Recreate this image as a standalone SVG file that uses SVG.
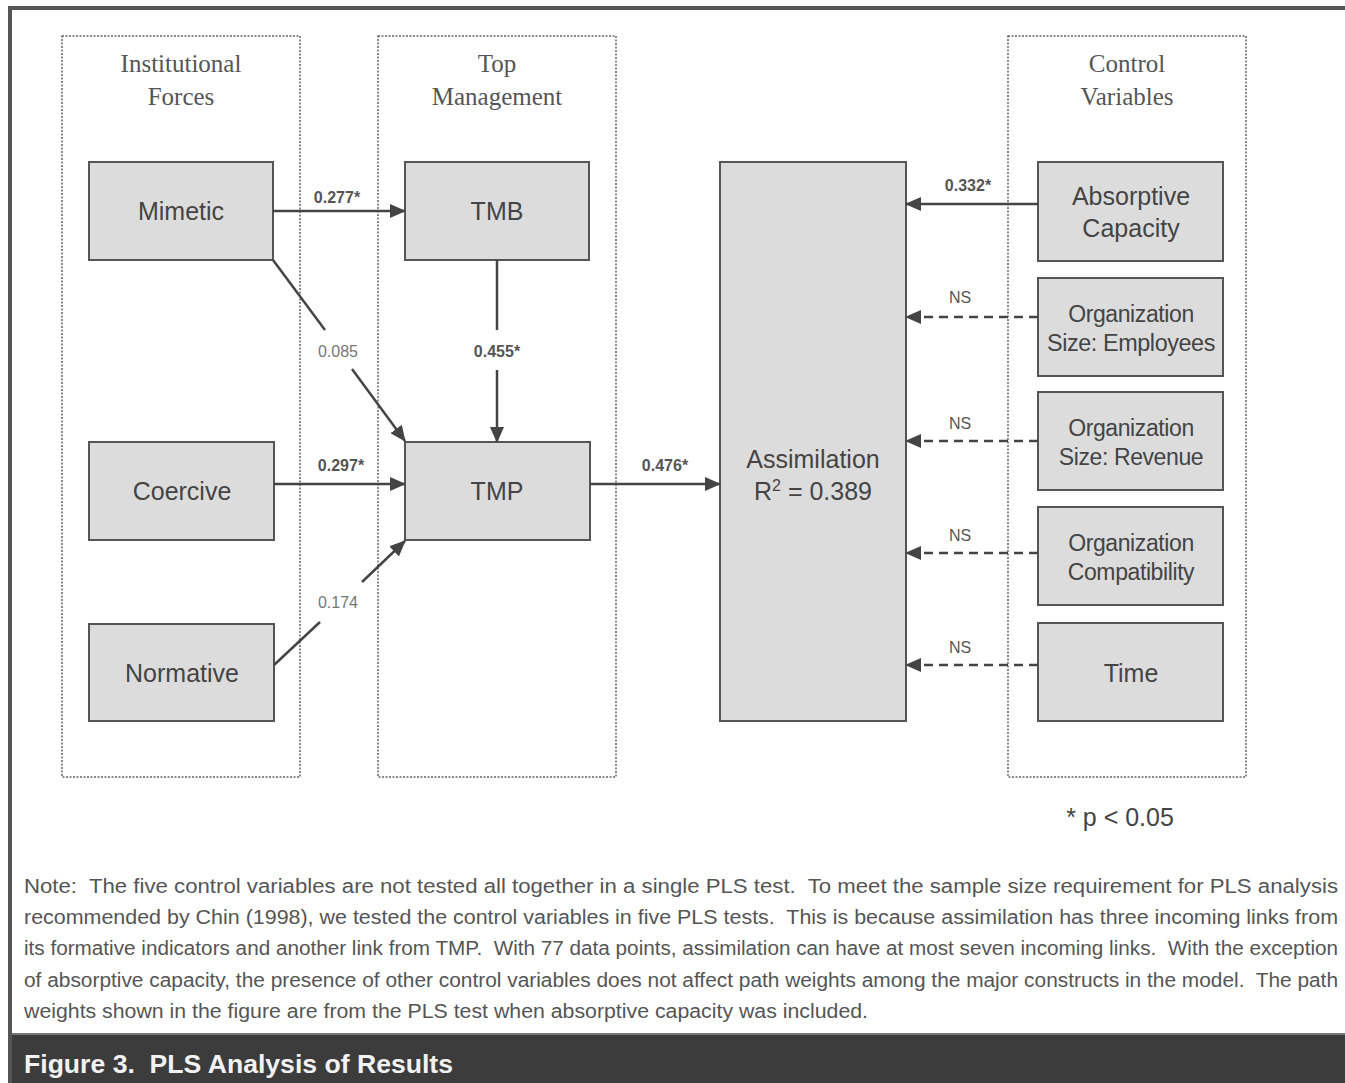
<svg xmlns="http://www.w3.org/2000/svg" width="1345" height="1083" viewBox="0 0 1345 1083">
<style>
.grp{fill:none;stroke:#666;stroke-width:1.5;stroke-dasharray:2 1.5}
.box{fill:#dcdcdc;stroke:#555;stroke-width:2}
.hd{font-family:"Liberation Serif",serif;font-size:25px;fill:#555;text-anchor:middle}
.nl{font-family:"Liberation Sans",Arial,sans-serif;font-size:25px;fill:#444;text-anchor:middle}
.sl{font-family:"Liberation Sans",Arial,sans-serif;font-size:23px;fill:#444;text-anchor:middle;letter-spacing:-0.4px}
.lb{font-family:"Liberation Sans",Arial,sans-serif;font-size:16px;fill:#555;text-anchor:middle;font-weight:bold}
.ln{font-family:"Liberation Sans",Arial,sans-serif;font-size:16px;fill:#777;text-anchor:middle}
.ns{font-family:"Liberation Sans",Arial,sans-serif;font-size:16px;fill:#555;text-anchor:middle}
.c{stroke:#444;stroke-width:2.5;fill:none}
.d{stroke:#444;stroke-width:2.5;fill:none;stroke-dasharray:9 6}
.note{font-family:"Liberation Sans",Arial,sans-serif;font-size:19.5px;fill:#555}
</style>
<defs>
<marker id="ah" markerUnits="userSpaceOnUse" markerWidth="16" markerHeight="14" refX="15" refY="7" orient="auto">
<path d="M0,0 L16,7 L0,14 Z" fill="#444"/>
</marker>
</defs>
<rect x="0" y="0" width="1345" height="1083" fill="#fff"/>
<g id="frame">
<line x1="10" y1="8" x2="1345" y2="8" stroke="#555" stroke-width="4"/>
<line x1="10" y1="6" x2="10" y2="1083" stroke="#555" stroke-width="4"/>
<rect x="12" y="1034" width="1333" height="49" fill="#3c3c3c"/>
<line x1="12" y1="1034" x2="1345" y2="1034" stroke="#777" stroke-width="2"/>
</g>
<g id="group-institutional">
<rect class="grp" x="62" y="36" width="238" height="741"/>
<text class="hd" x="181" y="72">Institutional</text>
<text class="hd" x="181" y="105">Forces</text>
</g>
<g id="group-top-management">
<rect class="grp" x="378" y="36" width="238" height="741"/>
<text class="hd" x="497" y="72">Top</text>
<text class="hd" x="497" y="105">Management</text>
</g>
<g id="group-control">
<rect class="grp" x="1008" y="36" width="238" height="741"/>
<text class="hd" x="1127" y="72">Control</text>
<text class="hd" x="1127" y="105">Variables</text>
</g>
<g id="node-mimetic"><rect class="box" x="89" y="162" width="184" height="98"/><text class="nl" x="181" y="220">Mimetic</text></g>
<g id="node-coercive"><rect class="box" x="89" y="442" width="185" height="98"/><text class="nl" x="182" y="500">Coercive</text></g>
<g id="node-normative"><rect class="box" x="89" y="624" width="185" height="97"/><text class="nl" x="182" y="682">Normative</text></g>
<g id="node-tmb"><rect class="box" x="405" y="162" width="184" height="98"/><text class="nl" x="497" y="220">TMB</text></g>
<g id="node-tmp"><rect class="box" x="405" y="442" width="185" height="98"/><text class="nl" x="497" y="500">TMP</text></g>
<g id="node-assimilation"><rect class="box" x="720" y="162" width="186" height="559"/><text class="nl" x="813" y="468">Assimilation</text><text class="nl" x="813" y="500">R<tspan font-size="16" dy="-9">2</tspan><tspan dy="9"> = 0.389</tspan></text></g>
<g id="node-absorptive"><rect class="box" x="1038" y="162" width="185" height="99"/><text class="nl" x="1131" y="205">Absorptive</text><text class="nl" x="1131" y="237">Capacity</text></g>
<g id="node-employees"><rect class="box" x="1038" y="278" width="185" height="98"/><text class="sl" x="1131" y="322">Organization</text><text class="sl" x="1131" y="351" textLength="168" lengthAdjust="spacingAndGlyphs">Size: Employees</text></g>
<g id="node-revenue"><rect class="box" x="1038" y="392" width="185" height="98"/><text class="sl" x="1131" y="436">Organization</text><text class="sl" x="1131" y="465">Size: Revenue</text></g>
<g id="node-compat"><rect class="box" x="1038" y="507" width="185" height="98"/><text class="sl" x="1131" y="551">Organization</text><text class="sl" x="1131" y="580">Compatibility</text></g>
<g id="node-time"><rect class="box" x="1038" y="623" width="185" height="98"/><text class="nl" x="1131" y="682">Time</text></g>
<g id="connectors">
<line class="c" x1="273" y1="211" x2="405" y2="211" marker-end="url(#ah)"/>
<text class="lb" x="337" y="203">0.277*</text>
<line class="c" x1="273" y1="260" x2="325" y2="330"/>
<line class="c" x1="352" y1="369" x2="405" y2="441" marker-end="url(#ah)"/>
<text class="ln" x="338" y="357">0.085</text>
<line class="c" x1="497" y1="260" x2="497" y2="330"/>
<line class="c" x1="497" y1="370" x2="497" y2="442" marker-end="url(#ah)"/>
<text class="lb" x="497" y="357">0.455*</text>
<line class="c" x1="274" y1="484" x2="405" y2="484" marker-end="url(#ah)"/>
<text class="lb" x="341" y="471">0.297*</text>
<line class="c" x1="274" y1="665" x2="320" y2="622"/>
<line class="c" x1="362" y1="582" x2="405" y2="541" marker-end="url(#ah)"/>
<text class="ln" x="338" y="608">0.174</text>
<line class="c" x1="590" y1="484" x2="720" y2="484" marker-end="url(#ah)"/>
<text class="lb" x="665" y="471">0.476*</text>
<line class="c" x1="1038" y1="204" x2="906" y2="204" marker-end="url(#ah)"/>
<text class="lb" x="968" y="191">0.332*</text>
<line class="d" x1="1038" y1="317" x2="906" y2="317" marker-end="url(#ah)"/>
<text class="ns" x="960" y="303">NS</text>
<line class="d" x1="1038" y1="441" x2="906" y2="441" marker-end="url(#ah)"/>
<text class="ns" x="960" y="429">NS</text>
<line class="d" x1="1038" y1="553" x2="906" y2="553" marker-end="url(#ah)"/>
<text class="ns" x="960" y="541">NS</text>
<line class="d" x1="1038" y1="665" x2="906" y2="665" marker-end="url(#ah)"/>
<text class="ns" x="960" y="653">NS</text>
</g>
<g id="legend">
<text x="1120" y="826" font-family="'Liberation Sans',Arial,sans-serif" font-size="25" fill="#444" text-anchor="middle">* p &lt; 0.05</text>
</g>
<g id="note">
<text class="note" x="24" y="893" textLength="1314" lengthAdjust="spacingAndGlyphs" xml:space="preserve">Note:  The five control variables are not tested all together in a single PLS test.  To meet the sample size requirement for PLS analysis</text>
<text class="note" x="24" y="924" textLength="1314" lengthAdjust="spacingAndGlyphs" xml:space="preserve">recommended by Chin (1998), we tested the control variables in five PLS tests.  This is because assimilation has three incoming links from</text>
<text class="note" x="24" y="955" textLength="1314" lengthAdjust="spacingAndGlyphs" xml:space="preserve">its formative indicators and another link from TMP.  With 77 data points, assimilation can have at most seven incoming links.  With the exception</text>
<text class="note" x="24" y="987" textLength="1314" lengthAdjust="spacingAndGlyphs" xml:space="preserve">of absorptive capacity, the presence of other control variables does not affect path weights among the major constructs in the model.  The path</text>
<text class="note" x="24" y="1018" textLength="844" lengthAdjust="spacingAndGlyphs">weights shown in the figure are from the PLS test when absorptive capacity was included.</text>
</g>
<g id="caption">
<text x="24" y="1073" font-family="'Liberation Sans',Arial,sans-serif" font-size="26" font-weight="bold" fill="#f2f2f2" textLength="429" lengthAdjust="spacingAndGlyphs" xml:space="preserve">Figure 3.  PLS Analysis of Results</text>
</g>
</svg>
